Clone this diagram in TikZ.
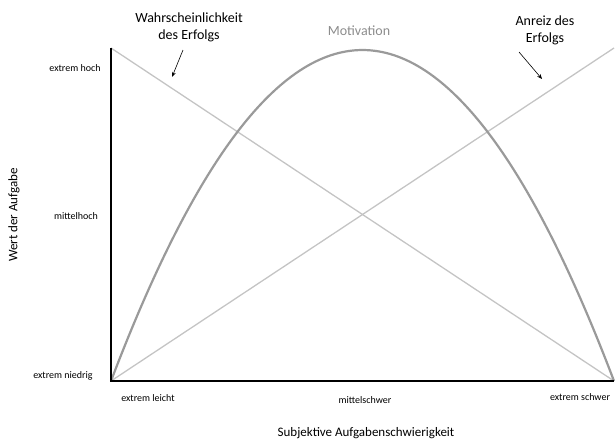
\documentclass[tikz,border=0pt]{standalone}
\usepackage{fontspec}
\setmainfont{Carlito}
\usetikzlibrary{arrows.meta}
\definecolor{lightline}{HTML}{C4C4C4}
\definecolor{curvecol}{HTML}{9A9A9A}
\definecolor{motivtext}{HTML}{8C8C8C}
\begin{document}
\begin{tikzpicture}[x=1pt,y=-1pt,
  tick/.style={font=\fontsize{10}{12}\selectfont, inner sep=0pt},
  bigl/.style={font=\fontsize{14}{17}\selectfont, align=center, inner sep=0pt},
  axislabel/.style={font=\fontsize{13}{15}\selectfont, inner sep=0pt},
  diag/.style={draw=lightline, line width=1.3pt},
  axisline/.style={draw=black, line width=1.6pt},
  pointer/.style={draw=black, line width=0.6pt, -{Stealth[length=5pt,width=4pt]}}]
\useasboundingbox (0,0) rectangle (616,442);
% key points
\coordinate (top) at (111,48);
\coordinate (origin) at (111,381);
\coordinate (xend) at (614,381);
\coordinate (tr) at (614,48);
% diagonals
\draw[diag] (top) -- (xend);
\draw[diag] (origin) -- (tr);
% motivation curve
\draw[curvecol, line width=2.2pt] (origin) .. controls (278.7,-60.3) and (446.3,-60.3) .. (xend);
% axes
\draw[axisline] (top) -- (origin) -- (xend);
% y tick labels
\node[tick] (yh) at (75,68) {extrem hoch};
\node[tick] (ym) at (76,216) {mittelhoch};
\node[tick] (yl) at (63,376) {extrem niedrig};
% x tick labels
\node[tick] (xl) at (148,398) {extrem leicht};
\node[tick] (xm) at (365,400) {mittelschwer};
\node[tick] (xs) at (580,397) {extrem schwer};
% axis titles
\node[axislabel] (xt) at (366,433) {Subjektive Aufgabenschwierigkeit};
\node[axislabel, rotate=90] (yt) at (14,215) {Wert der Aufgabe};
% curve labels
\node[bigl, text=motivtext] (mot) at (359,31) {Motivation};
\node[bigl] (wahr) at (189,27) {Wahrscheinlichkeit\\des Erfolgs};
\node[bigl] (anr) at (545,30) {Anreiz des\\Erfolgs};
% pointers
\coordinate (wa) at (183,50);
\coordinate (wb) at (172,77);
\coordinate (aa) at (519,52);
\coordinate (ab) at (542,79);
\draw[pointer] (wa) -- (wb);
\draw[pointer] (aa) -- (ab);
\end{tikzpicture}
\end{document}
